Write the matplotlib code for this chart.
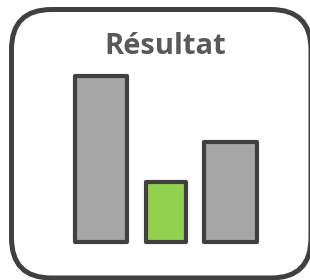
import matplotlib
matplotlib.use('Agg')
import matplotlib.pyplot as plt
from matplotlib.patches import FancyBboxPatch

# data
categories = ['A', 'B', 'C']
values = [100, 36, 60]
title = 'Résultat'

bar_colors = ['#A6A6A6', '#92D050', '#A6A6A6']
bar_widths = [0.8, 0.62, 0.82]
edge = '#404040'

fig = plt.figure(figsize=(3.1, 2.8), dpi=100)

# frame layer, pixel coordinates
bg = fig.add_axes([0, 0, 1, 1])
bg.set_xlim(0, 310)
bg.set_ylim(280, 0)
bg.axis('off')
frame = FancyBboxPatch((11.5, 9.5), 299.5, 268.5,
                       boxstyle='round,pad=0,rounding_size=40',
                       fc='white', ec=edge, lw=3.6)
bg.add_patch(frame)
bg.text(165, 54.5, title, ha='center', va='baseline', fontsize=21,
        fontweight='bold', color='#595959',
        family=['Open Sans', 'DejaVu Sans'])

# bars
ax = fig.add_axes([68.6 / 310, 38 / 280, 194.3 / 310, 166 / 280])
x = range(len(categories))
ax.bar(x, values, width=bar_widths, color=bar_colors, edgecolor=edge,
       linewidth=3.0, joinstyle='round')
ax.set_xlim(-0.5, 2.5)
ax.set_ylim(0, max(values))
ax.axis('off')
for b in ax.patches:
    b.set_clip_on(False)

fig.savefig('out.png', dpi=100)
